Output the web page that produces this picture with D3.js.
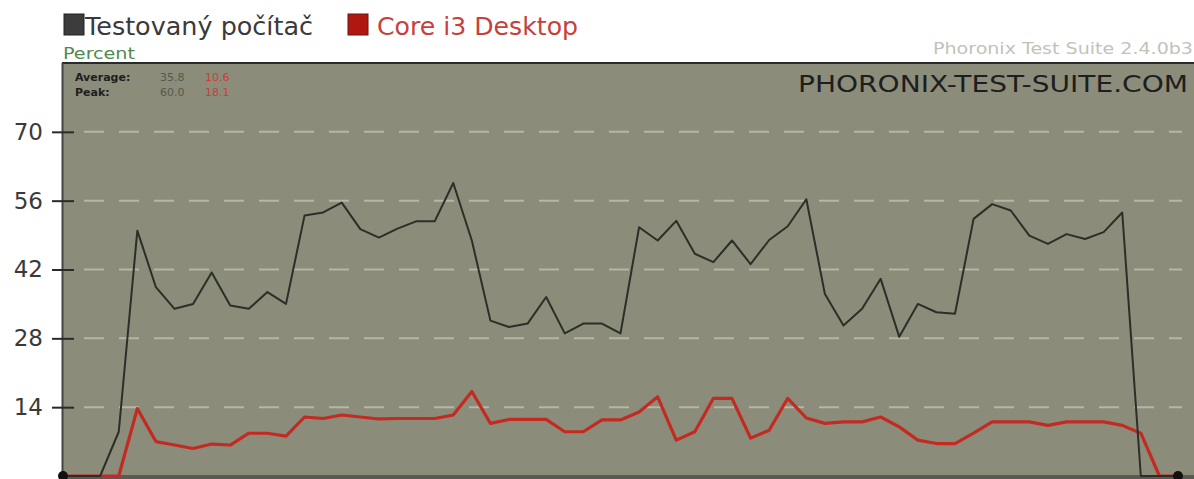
<!DOCTYPE html>
<html>
<head>
<meta charset="utf-8">
<script src="https://cdnjs.cloudflare.com/ajax/libs/d3/7.8.5/d3.min.js"></script>
<style>
    body { margin: 0; background: #fff; }
    svg { display: block; font-family: "DejaVu Sans", sans-serif; }
</style>
</head>
<body>
<div id="chart"></div>
<script>
// series values (percent), one per sample
var testovany = [0, 0, 0, 9, 49.9, 38.4, 34, 35, 41.4, 34.7, 34, 37.4, 35, 53, 53.6, 55.6, 50.2, 48.5, 50.3, 51.8,
    51.8, 59.6, 47.9, 31.6, 30.3, 31, 36.4, 29, 31, 31, 29, 50.6, 47.9, 51.9, 45.2, 43.5, 47.9, 43.1, 48, 50.8,
    56.3, 37, 30.6, 34, 40.1, 28.3, 35, 33.3, 33, 52.3, 55.3, 54, 48.9, 47.2, 49.2, 48.2, 49.6, 53.6, 0, 0, 0];
var corei3 = [0, 0, 0, 0, 13.7, 7, 6.3, 5.6, 6.5, 6.3, 8.7, 8.7, 8.1, 12, 11.7, 12.4, 12, 11.6, 11.7, 11.7,
    11.7, 12.4, 17.2, 10.7, 11.5, 11.5, 11.5, 9, 9, 11.4, 11.4, 13, 16.1, 7.3, 9, 15.8, 15.8, 7.7, 9.3, 15.8,
    11.8, 10.7, 11, 11, 12, 10, 7.3, 6.6, 6.6, 8.7, 11, 11, 11, 10.3, 11, 11, 11, 10.3, 8.7, 0, 0];

var seriesNames = ['Testovaný počítač', 'Core i3 Desktop'];
var yTicks = [14, 28, 42, 56, 70];
var statLabels = ['Average:', 'Peak:'];
var statValues = [['35.8', '10.6'], ['60.0', '18.1']];

var W = 1194, H = 479;
var plot = { left: 62, top: 63, right: 1194, bottom: 476 };

var svg = d3.select('#chart').append('svg')
    .attr('width', W)
    .attr('height', H);

var x = d3.scaleLinear()
    .domain([0, testovany.length - 1])
    .range([63, 1178]);

var y = d3.scaleLinear()
    .domain([0, 84])
    .range([plot.bottom, plot.top]);

// plot background
svg.append('rect')
    .attr('x', plot.left)
    .attr('y', plot.top)
    .attr('width', plot.right - plot.left)
    .attr('height', plot.bottom - plot.top)
    .style('fill', '#8c8c7a');

// top border
svg.append('line')
    .attr('x1', plot.left).attr('x2', plot.right)
    .attr('y1', plot.top).attr('y2', plot.top)
    .style('stroke', '#2a2a2a')
    .style('stroke-width', 2);

// dashed grid
svg.selectAll('.grid')
    .data(yTicks)
    .enter()
    .append('line')
    .attr('class', 'grid')
    .attr('x1', plot.left + 22)
    .attr('x2', 1182)
    .attr('y1', function (d) { return y(d); })
    .attr('y2', function (d) { return y(d); })
    .style('stroke', '#d2d2c2')
    .style('stroke-opacity', 0.6)
    .style('stroke-width', 2)
    .style('stroke-dasharray', '20,15');

// y axis
var yAxis = svg.append('g')
    .attr('transform', 'translate(' + plot.left + ',0)')
    .call(d3.axisLeft(y).tickValues(yTicks).tickSize(10).tickPadding(9));

yAxis.select('.domain')
    .attr('d', 'M0.5,' + plot.top + 'V' + plot.bottom)
    .style('stroke', '#444')
    .style('stroke-width', 2);

yAxis.selectAll('.tick line')
    .attr('x1', 12)
    .style('stroke', '#2a2a2a')
    .style('stroke-width', 2);

yAxis.selectAll('.tick text')
    .style('font-size', '23px')
    .style('fill', '#3a3a3a')
    .style('font-family', '"DejaVu Sans", sans-serif');

// bottom bar
svg.append('rect')
    .attr('x', plot.left)
    .attr('y', plot.bottom - 1)
    .attr('width', plot.right - plot.left)
    .attr('height', H - plot.bottom + 1)
    .style('fill', '#5a5a52');

// lines
var line = d3.line()
    .x(function (d, i) { return x(i); })
    .y(function (d) { return y(d); });

svg.append('path')
    .datum(corei3)
    .attr('d', line)
    .style('fill', 'none')
    .style('stroke', '#c42a22')
    .style('stroke-width', 3.2)
    .style('stroke-linejoin', 'round');

svg.append('path')
    .datum(testovany)
    .attr('d', line)
    .style('fill', 'none')
    .style('stroke', '#2b2f28')
    .style('stroke-width', 2)
    .style('stroke-linejoin', 'round');

// end dots
svg.selectAll('.enddot')
    .data([0, testovany.length - 1])
    .enter()
    .append('circle')
    .attr('class', 'enddot')
    .attr('cx', function (d) { return x(d); })
    .attr('cy', y(0))
    .attr('r', 5)
    .style('fill', '#111');

// legend
var legend = svg.selectAll('.legend')
    .data(seriesNames)
    .enter()
    .append('g')
    .attr('class', 'legend')
    .attr('transform', function (d, i) { return 'translate(' + [64, 348][i] + ',14)'; });

legend.append('rect')
    .attr('width', 20)
    .attr('height', 21)
    .style('fill', function (d, i) { return i === 0 ? '#3c3c3c' : '#b0180f'; })
    .style('stroke', function (d, i) { return i === 0 ? '#222' : '#701010'; })
    .style('stroke-width', 1);

legend.append('text')
    .attr('x', function (d, i) { return i === 0 ? 21 : 29; })
    .attr('y', 21)
    .attr('textLength', function (d, i) { return i === 0 ? 228 : 201; })
    .attr('lengthAdjust', 'spacingAndGlyphs')
    .style('font-size', '24px')
    .style('fill', function (d, i) { return i === 0 ? '#3a3a3a' : '#c8403a'; })
    .text(function (d) { return d; });

// unit and version
svg.append('text')
    .attr('x', 63)
    .attr('y', 59)
    .attr('textLength', 72)
    .attr('lengthAdjust', 'spacingAndGlyphs')
    .style('font-size', '16px')
    .style('fill', '#4f8a50')
    .text('Percent');

svg.append('text')
    .attr('x', 933)
    .attr('y', 54)
    .attr('textLength', 260)
    .attr('lengthAdjust', 'spacingAndGlyphs')
    .style('font-size', '16px')
    .style('fill', '#c2c2ba')
    .text('Phoronix Test Suite 2.4.0b3');

svg.append('text')
    .attr('x', 798)
    .attr('y', 92)
    .attr('textLength', 390)
    .attr('lengthAdjust', 'spacingAndGlyphs')
    .style('font-size', '23px')
    .style('fill', '#1e1e1e')
    .text('PHORONIX-TEST-SUITE.COM');

// stats box
var stats = svg.selectAll('.stat')
    .data(statLabels)
    .enter()
    .append('g')
    .attr('class', 'stat')
    .attr('transform', function (d, i) { return 'translate(75,' + (81 + i * 15) + ')'; });

stats.append('text')
    .style('font-size', '11px')
    .style('font-weight', 'bold')
    .style('fill', '#1e1e1e')
    .text(function (d) { return d; });

stats.append('text')
    .attr('x', 85)
    .style('font-size', '11px')
    .style('fill', '#55594c')
    .text(function (d, i) { return statValues[i][0]; });

stats.append('text')
    .attr('x', 130)
    .style('font-size', '11px')
    .style('fill', '#c8403a')
    .text(function (d, i) { return statValues[i][1]; });
</script>
</body>
</html>
